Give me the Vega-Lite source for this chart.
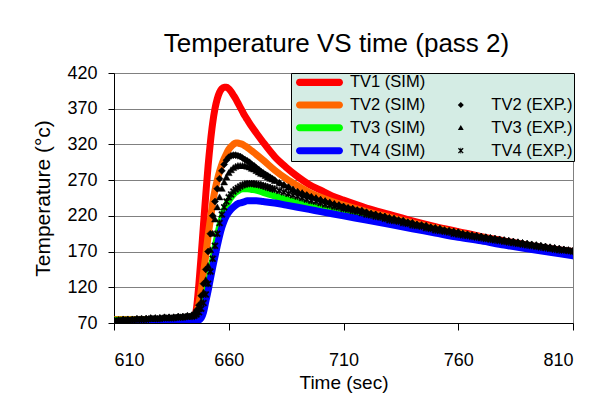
{
  "$schema": "https://vega.github.io/schema/vega-lite/v6.json",
  "width": 459,
  "height": 250,
  "autosize": "none",
  "padding": {"left": 114, "top": 73, "right": 28, "bottom": 85},
  "background": "white",
  "title": {"text": "Temperature VS time (pass 2)", "fontSize": 26, "fontWeight": "normal", "color": "black", "anchor": "middle", "frame": "group", "dx": -7, "dy": 25, "baseline": "alphabetic", "offset": 11},
  "config": {
    "font": "Liberation Sans",
    "view": {"stroke": "#808080", "strokeWidth": 1},
    "axis": {"labelColor": "black", "titleColor": "black", "labelFont": "Liberation Sans", "titleFont": "Liberation Sans", "titleFontWeight": "normal", "domainColor": "black", "tickColor": "black", "domainWidth": 1, "tickWidth": 1}
  },
  "datasets": {
    "sim": [
      {"t":610,"s1":75,"s2":75,"s3":74,"s4":72},
      {"t":620,"s1":75,"s2":75,"s3":74,"s4":72},
      {"t":630,"s1":75,"s2":75,"s3":74,"s4":72},
      {"t":640,"s1":75,"s2":75,"s3":74,"s4":72},
      {"t":644,"s1":76,"s2":76,"s3":75,"s4":72},
      {"t":645,"s1":78,"s2":77,"s3":75,"s4":72},
      {"t":646,"s1":92,"s2":84,"s3":77,"s4":73},
      {"t":647,"s1":125,"s2":97,"s3":80,"s4":74},
      {"t":648,"s1":165,"s2":115,"s3":85,"s4":77},
      {"t":649,"s1":208,"s2":140,"s3":95,"s4":85},
      {"t":650,"s1":250,"s2":165,"s3":108,"s4":100},
      {"t":651,"s1":290,"s2":192,"s3":123,"s4":115},
      {"t":652,"s1":323,"s2":215,"s3":140,"s4":132},
      {"t":653,"s1":350,"s2":238,"s3":158,"s4":148},
      {"t":654,"s1":370,"s2":256,"s3":175,"s4":163},
      {"t":655,"s1":384,"s2":270,"s3":191,"s4":178},
      {"t":656,"s1":393,"s2":282,"s3":205,"s4":192},
      {"t":657,"s1":398,"s2":292,"s3":217,"s4":204},
      {"t":658,"s1":400,"s2":300,"s3":227,"s4":213},
      {"t":659,"s1":400,"s2":307,"s3":235,"s4":220},
      {"t":660,"s1":398,"s2":313,"s3":241,"s4":225},
      {"t":661,"s1":394,"s2":317,"s3":246,"s4":229},
      {"t":662,"s1":389,"s2":320,"s3":250,"s4":232},
      {"t":663,"s1":384,"s2":322,"s3":253,"s4":235},
      {"t":664,"s1":378,"s2":322,"s3":255,"s4":237},
      {"t":665,"s1":372,"s2":321,"s3":257,"s4":238},
      {"t":666,"s1":366,"s2":320,"s3":258,"s4":239},
      {"t":667,"s1":360,"s2":318,"s3":258,"s4":240},
      {"t":668,"s1":355,"s2":316,"s3":258,"s4":241},
      {"t":670,"s1":345,"s2":311,"s3":257,"s4":241},
      {"t":672,"s1":336,"s2":306,"s3":256,"s4":241},
      {"t":675,"s1":323,"s2":298,"s3":253,"s4":240},
      {"t":680,"s1":303,"s2":284,"s3":248,"s4":238},
      {"t":685,"s1":288,"s2":272,"s3":243,"s4":235},
      {"t":690,"s1":275,"s2":262,"s3":239,"s4":232},
      {"t":695,"s1":264,"s2":253,"s3":235,"s4":229},
      {"t":700,"s1":256,"s2":246,"s3":231,"s4":226},
      {"t":705,"s1":248,"s2":240,"s3":227,"s4":223},
      {"t":710,"s1":242,"s2":235,"s3":224,"s4":220},
      {"t":720,"s1":231,"s2":226,"s3":217,"s4":214},
      {"t":730,"s1":222,"s2":218,"s3":210,"s4":208},
      {"t":740,"s1":213,"s2":210,"s3":204,"s4":202},
      {"t":750,"s1":205,"s2":203,"s3":198,"s4":196},
      {"t":760,"s1":198,"s2":196,"s3":192,"s4":190},
      {"t":770,"s1":191,"s2":190,"s3":186,"s4":185},
      {"t":780,"s1":185,"s2":184,"s3":181,"s4":179},
      {"t":790,"s1":179,"s2":178,"s3":176,"s4":174},
      {"t":800,"s1":174,"s2":173,"s3":171,"s4":169},
      {"t":810,"s1":170,"s2":169,"s3":167,"s4":164}
    ],
    "exp": [
      {"t":610,"e2":74,"e3":73,"e4":73},
      {"t":612,"e2":74,"e3":74,"e4":73},
      {"t":614,"e2":75,"e3":74,"e4":74},
      {"t":616,"e2":75,"e3":74,"e4":74},
      {"t":618,"e2":75,"e3":75,"e4":74},
      {"t":620,"e2":76,"e3":75,"e4":75},
      {"t":622,"e2":76,"e3":75,"e4":75},
      {"t":624,"e2":76,"e3":76,"e4":75},
      {"t":626,"e2":77,"e3":76,"e4":76},
      {"t":628,"e2":77,"e3":76,"e4":76},
      {"t":630,"e2":77,"e3":77,"e4":76},
      {"t":632,"e2":78,"e3":77,"e4":77},
      {"t":634,"e2":78,"e3":77,"e4":77},
      {"t":636,"e2":78,"e3":78,"e4":77},
      {"t":638,"e2":79,"e3":78,"e4":78},
      {"t":640,"e2":79,"e3":78,"e4":78},
      {"t":642,"e2":80,"e3":79,"e4":79},
      {"t":644,"e2":81,"e3":80,"e4":79},
      {"t":645,"e2":83,"e3":82,"e4":80},
      {"t":646,"e2":88,"e3":85,"e4":82},
      {"t":647,"e2":95,"e3":90,"e4":85},
      {"t":648,"e2":108,"e3":100,"e4":90},
      {"t":649,"e2":125,"e3":113,"e4":98},
      {"t":650,"e2":145,"e3":130,"e4":110},
      {"t":651,"e2":170,"e3":150,"e4":125},
      {"t":652,"e2":195,"e3":172,"e4":142},
      {"t":653,"e2":220,"e3":195,"e4":160},
      {"t":654,"e2":240,"e3":215,"e4":178},
      {"t":655,"e2":258,"e3":232,"e4":195},
      {"t":656,"e2":272,"e3":246,"e4":210},
      {"t":657,"e2":283,"e3":258,"e4":222},
      {"t":658,"e2":292,"e3":267,"e4":232},
      {"t":659,"e2":298,"e3":274,"e4":240},
      {"t":660,"e2":302,"e3":280,"e4":246},
      {"t":661,"e2":304,"e3":284,"e4":250},
      {"t":662,"e2":305,"e3":287,"e4":254},
      {"t":663,"e2":305,"e3":289,"e4":257},
      {"t":664,"e2":304,"e3":290,"e4":259},
      {"t":665,"e2":303,"e3":290,"e4":261},
      {"t":666,"e2":301,"e3":290,"e4":263},
      {"t":667,"e2":299,"e3":290,"e4":264},
      {"t":668,"e2":297,"e3":289,"e4":265},
      {"t":669,"e2":295,"e3":288,"e4":265},
      {"t":670,"e2":292,"e3":286,"e4":265},
      {"t":671,"e2":290,"e3":285,"e4":265},
      {"t":672,"e2":287,"e3":283,"e4":264},
      {"t":673,"e2":285,"e3":281,"e4":264},
      {"t":674,"e2":282,"e3":279,"e4":263},
      {"t":675,"e2":280,"e3":278,"e4":262},
      {"t":676,"e2":278,"e3":276,"e4":261},
      {"t":677,"e2":276,"e3":274,"e4":260},
      {"t":678,"e2":274,"e3":272,"e4":259},
      {"t":679,"e2":272,"e3":271,"e4":258},
      {"t":680,"e2":270,"e3":269,"e4":257},
      {"t":682,"e2":266,"e3":266,"e4":255},
      {"t":684,"e2":263,"e3":263,"e4":253},
      {"t":686,"e2":260,"e3":260,"e4":251},
      {"t":688,"e2":256,"e3":257,"e4":249},
      {"t":690,"e2":253,"e3":254,"e4":247},
      {"t":692,"e2":251,"e3":252,"e4":245},
      {"t":694,"e2":249,"e3":249,"e4":243},
      {"t":696,"e2":246,"e3":247,"e4":241},
      {"t":698,"e2":244,"e3":245,"e4":240},
      {"t":700,"e2":242,"e3":243,"e4":238},
      {"t":702,"e2":240,"e3":241,"e4":236},
      {"t":704,"e2":238,"e3":239,"e4":235},
      {"t":706,"e2":236,"e3":237,"e4":233},
      {"t":708,"e2":235,"e3":235,"e4":232},
      {"t":710,"e2":233,"e3":233,"e4":230},
      {"t":712,"e2":231,"e3":231,"e4":229},
      {"t":714,"e2":230,"e3":230,"e4":227},
      {"t":716,"e2":228,"e3":228,"e4":226},
      {"t":718,"e2":227,"e3":227,"e4":224},
      {"t":720,"e2":225,"e3":225,"e4":222},
      {"t":722,"e2":223,"e3":223,"e4":221},
      {"t":724,"e2":222,"e3":222,"e4":219},
      {"t":726,"e2":220,"e3":220,"e4":218},
      {"t":728,"e2":219,"e3":219,"e4":216},
      {"t":730,"e2":217,"e3":217,"e4":214},
      {"t":732,"e2":216,"e3":216,"e4":213},
      {"t":734,"e2":214,"e3":214,"e4":212},
      {"t":736,"e2":213,"e3":213,"e4":210},
      {"t":738,"e2":211,"e3":211,"e4":209},
      {"t":740,"e2":210,"e3":210,"e4":207},
      {"t":742,"e2":208,"e3":208,"e4":206},
      {"t":744,"e2":207,"e3":207,"e4":205},
      {"t":746,"e2":206,"e3":206,"e4":203},
      {"t":748,"e2":204,"e3":204,"e4":202},
      {"t":750,"e2":203,"e3":203,"e4":200},
      {"t":752,"e2":202,"e3":202,"e4":199},
      {"t":754,"e2":200,"e3":200,"e4":198},
      {"t":756,"e2":199,"e3":199,"e4":197},
      {"t":758,"e2":198,"e3":198,"e4":195},
      {"t":760,"e2":197,"e3":197,"e4":194},
      {"t":762,"e2":195,"e3":195,"e4":193},
      {"t":764,"e2":194,"e3":194,"e4":192},
      {"t":766,"e2":193,"e3":193,"e4":191},
      {"t":768,"e2":192,"e3":192,"e4":190},
      {"t":770,"e2":191,"e3":191,"e4":189},
      {"t":772,"e2":190,"e3":190,"e4":188},
      {"t":774,"e2":189,"e3":189,"e4":187},
      {"t":776,"e2":188,"e3":188,"e4":186},
      {"t":778,"e2":187,"e3":187,"e4":185},
      {"t":780,"e2":186,"e3":186,"e4":184},
      {"t":782,"e2":185,"e3":185,"e4":183},
      {"t":784,"e2":184,"e3":184,"e4":182},
      {"t":786,"e2":183,"e3":183,"e4":181},
      {"t":788,"e2":182,"e3":182,"e4":180},
      {"t":790,"e2":181,"e3":181,"e4":179},
      {"t":792,"e2":180,"e3":180,"e4":178},
      {"t":794,"e2":179,"e3":179,"e4":177},
      {"t":796,"e2":178,"e3":178,"e4":176},
      {"t":798,"e2":177,"e3":177,"e4":175},
      {"t":800,"e2":176,"e3":176,"e4":174},
      {"t":802,"e2":175,"e3":175,"e4":173},
      {"t":804,"e2":174,"e3":174,"e4":172},
      {"t":806,"e2":173,"e3":173,"e4":172},
      {"t":808,"e2":172,"e3":172,"e4":171},
      {"t":810,"e2":171,"e3":171,"e4":170}
    ]
  },
  "encoding": {
    "x": {"field": "t", "type": "quantitative", "scale": {"domain": [610, 810], "nice": false, "zero": false},
      "axis": {"values": [610, 660, 710, 760, 810], "title": "Time (sec)", "grid": false, "tickSize": 7, "labelFontSize": 18, "labelPadding": 21, "titleFontSize": 19, "titlePadding": 4}},
    "y": {"field": "temp", "type": "quantitative", "scale": {"domain": [70, 420], "nice": false, "zero": false},
      "axis": {"values": [70, 120, 170, 220, 270, 320, 370, 420], "title": "Temperature (°c)", "grid": true, "gridColor": "#808080", "gridWidth": 1, "tickSize": 6, "labelFontSize": 18, "labelPadding": 11, "titleFontSize": 21, "titlePadding": 13}}
  },
  "layer": [
    {
      "data": {"name": "sim"},
      "transform": [{"fold": ["s1", "s2", "s3", "s4"], "as": ["series", "temp"]}],
      "mark": {"type": "line", "strokeWidth": 7, "strokeCap": "round", "strokeJoin": "round", "interpolate": "monotone", "clip": true},
      "encoding": {
        "color": {"field": "series", "type": "nominal",
          "scale": {"domain": ["s1", "s2", "s3", "s4", "blank", "e2", "e3", "e4"], "range": ["#FF0000", "#FF6600", "#00FF00", "#0000FF", "transparent", "black", "black", "black"]},
          "legend": {"orient": "none", "legendX": 177, "legendY": 0, "title": null, "padding": 1, "fillColor": "#D4ECE4", "strokeColor": "black",
            "columns": 2, "columnPadding": 7.3, "symbolSize": 81, "symbolStrokeWidth": 0, "symbolOffset": 19.25, "labelOffset": 22.25,
            "labelFontSize": 16.5, "labelColor": "black", "labelLimit": 200, "rowPadding": 5.8,
            "labelExpr": "datum.value == 'blank' ? '' : 'TV' + substring(datum.value, 1) + (indexof(datum.value, 's') == 0 ? ' (SIM)' : ' (EXP.)')",
            "encode": {
              "symbols": {"update": {"fill": {"scale": "color", "field": "value"}, "stroke": {"value": "transparent"}, "strokeWidth": {"value": 0}, "size": {"value": 81}}},
              "legend": {"update": {"strokeWidth": {"value": 1}}}}}
        }
      }
    },
    {
      "data": {"name": "exp"},
      "transform": [{"fold": ["e2", "e3", "e4"], "as": ["series", "temp"]}],
      "mark": {"type": "point", "filled": true, "color": "black", "stroke": "black", "strokeWidth": 0.5, "size": 110, "opacity": 1, "clip": true},
      "encoding": {
        "shape": {"field": "series", "type": "nominal",
          "scale": {"domain": ["s1", "s2", "s3", "s4", "blank", "e2", "e3", "e4"],
            "range": [
              "M-4.44,-0.78H4.44A0.78,0.78,0,0,1,4.44,0.78H-4.44A0.78,0.78,0,0,1,-4.44,-0.78Z",
              "M-4.44,-0.78H4.44A0.78,0.78,0,0,1,4.44,0.78H-4.44A0.78,0.78,0,0,1,-4.44,-0.78Z",
              "M-4.44,-0.78H4.44A0.78,0.78,0,0,1,4.44,0.78H-4.44A0.78,0.78,0,0,1,-4.44,-0.78Z",
              "M-4.44,-0.78H4.44A0.78,0.78,0,0,1,4.44,0.78H-4.44A0.78,0.78,0,0,1,-4.44,-0.78Z",
              "M-4.44,-0.78H4.44A0.78,0.78,0,0,1,4.44,0.78H-4.44A0.78,0.78,0,0,1,-4.44,-0.78Z",
              "M-0.67,0L0,-0.67L0.67,0L0,0.67Z",
              "M0,-0.65L0.65,0.5L-0.65,0.5Z",
              "M-0.62,-0.43L-0.43,-0.62L0,-0.19L0.43,-0.62L0.62,-0.43L0.19,0L0.62,0.43L0.43,0.62L0,0.19L-0.43,0.62L-0.62,0.43L-0.19,0ZM-0.09,-0.62H0.09V0.62H-0.09Z"
            ]},
          "legend": {"orient": "none", "legendX": 177, "legendY": 0, "title": null, "padding": 1, "fillColor": "#D4ECE4", "strokeColor": "black",
            "columns": 2, "columnPadding": 7.3, "symbolSize": 81, "symbolStrokeWidth": 0, "symbolOffset": 19.25, "labelOffset": 22.25,
            "labelFontSize": 16.5, "labelColor": "black", "labelLimit": 200, "rowPadding": 5.8,
            "labelExpr": "datum.value == 'blank' ? '' : 'TV' + substring(datum.value, 1) + (indexof(datum.value, 's') == 0 ? ' (SIM)' : ' (EXP.)')",
            "encode": {
              "symbols": {"update": {"fill": {"scale": "color", "field": "value"}, "stroke": {"value": "transparent"}, "strokeWidth": {"value": 0}, "size": {"value": 81}}},
              "legend": {"update": {"strokeWidth": {"value": 1}}}}}
        }
      }
    }
  ]
}
